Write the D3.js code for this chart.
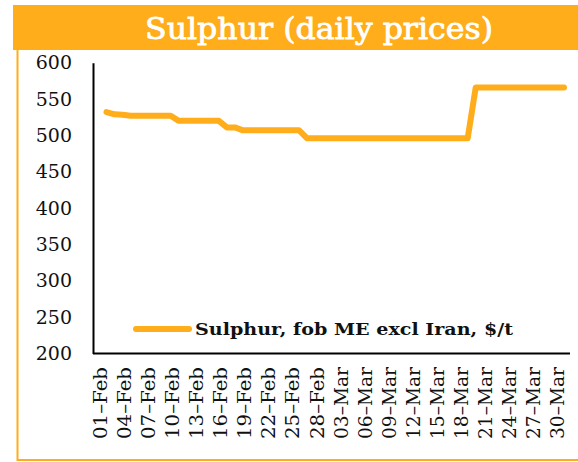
<!DOCTYPE html>
<html>
<head>
<meta charset="utf-8">
<script src="https://cdn.jsdelivr.net/npm/d3@7"></script>
<style>
  body { margin: 0; background: #fff; }
  svg { display: block; }
  text { font-family: "DejaVu Serif", serif; }
</style>
</head>
<body>
<div id="chart"></div>
<script>
// data: daily prices from 01-Feb to 30-Mar
var startDay = "2019-02-01";
var prices = [
  532, 529, 528.5, 527, 527, 527, 527, 527, 527,
  520, 520, 520, 520, 520, 520,
  511, 511,
  507, 507, 507, 507, 507, 507, 507, 507,
  496, 496, 496, 496, 496, 496, 496, 496, 496, 496, 496,
  496, 496, 496, 496, 496, 496, 496, 496, 496, 496,
  566, 566, 566, 566, 566, 566, 566, 566, 566, 566, 566, 566
];
var xTicks = ["01-Feb", "04-Feb", "07-Feb", "10-Feb", "13-Feb", "16-Feb", "19-Feb",
  "22-Feb", "25-Feb", "28-Feb", "03-Mar", "06-Mar", "09-Mar", "12-Mar", "15-Mar",
  "18-Mar", "21-Mar", "24-Mar", "27-Mar", "30-Mar"];
var yTicks = [200, 250, 300, 350, 400, 450, 500, 550, 600];
var seriesName = "Sulphur, fob ME excl Iran, $/t";
var title = "Sulphur (daily prices)";

var W = 578, H = 462;
var orange = "#ffad1a";

var parseDay = d3.timeParse("%Y-%m-%d");
var parseTick = d3.timeParse("%d-%b-%Y");
var start = parseDay(startDay);
var data = prices.map(function(v, i) {
  return { date: d3.timeDay.offset(start, i), value: v };
});

var svg = d3.select("#chart").append("svg")
  .attr("width", W).attr("height", H);

// frame
svg.append("path")
  .attr("d", "M17.5,45 V460 H580")
  .attr("fill", "none").attr("stroke", orange).attr("stroke-width", 2);

// title band
svg.append("rect")
  .attr("x", 13).attr("y", 5).attr("width", W - 13).attr("height", 45)
  .attr("fill", orange);
svg.append("text")
  .attr("x", 319).attr("y", 28)
  .attr("text-anchor", "middle")
  .attr("dominant-baseline", "central")
  .attr("fill", "#fff")
  .attr("stroke", "#fff")
  .attr("stroke-width", 0.8)
  .style("font-size", "30px")
  .attr("textLength", 348)
  .attr("lengthAdjust", "spacingAndGlyphs")
  .text(title);

// scales
var x = d3.scaleTime()
  .domain([data[0].date, data[data.length - 1].date])
  .range([106.5, 564]);
var y = d3.scaleLinear().domain([200, 600]).range([353.5, 62.7]);

// y axis
var yAxis = svg.append("g")
  .attr("transform", "translate(93,0)")
  .call(d3.axisLeft(y).tickValues(yTicks).tickSize(0).tickPadding(21));
yAxis.select(".domain").attr("stroke", "#000").attr("stroke-width", 2);
yAxis.selectAll("text")
  .attr("fill", "#111")
  .style("font-family", "DejaVu Serif")
  .style("font-size", "19px");

// x axis line
svg.append("line")
  .attr("x1", 93).attr("x2", 570)
  .attr("y1", y(200)).attr("y2", y(200))
  .attr("stroke", "#000").attr("stroke-width", 2);

// x tick labels
svg.append("g").selectAll("text")
  .data(xTicks)
  .join("text")
  .attr("transform", function(d) {
    return "translate(" + (x(parseTick(d + "-2019")) - 6.5) + ",367) rotate(-90)";
  })
  .attr("text-anchor", "end")
  .attr("dy", "0.36em")
  .attr("fill", "#111")
  .style("font-size", "19px")
  .attr("textLength", 72)
  .attr("lengthAdjust", "spacingAndGlyphs")
  .text(function(d) { return d.replace("-", "\u2013"); });

// price line
svg.append("path")
  .datum(data)
  .attr("fill", "none")
  .attr("stroke", orange)
  .attr("stroke-width", 6)
  .attr("stroke-linecap", "round")
  .attr("stroke-linejoin", "round")
  .attr("d", d3.line()
    .x(function(d) { return x(d.date); })
    .y(function(d) { return y(d.value); }));

// legend
svg.append("line")
  .attr("x1", 136).attr("x2", 189).attr("y1", 329).attr("y2", 329)
  .attr("stroke", orange).attr("stroke-width", 6).attr("stroke-linecap", "round");
svg.append("text")
  .attr("x", 195).attr("y", 329)
  .attr("dominant-baseline", "central")
  .attr("fill", "#111")
  .style("font-size", "17px")
  .style("font-weight", "bold")
  .attr("textLength", 318)
  .attr("lengthAdjust", "spacingAndGlyphs")
  .text(seriesName);
</script>
</body>
</html>
